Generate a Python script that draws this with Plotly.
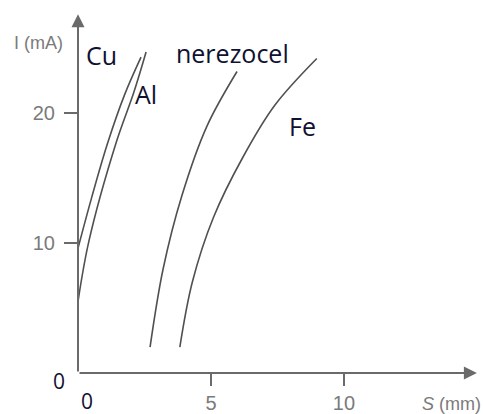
import plotly.graph_objects as go

# Current I (mA) against distance S (mm) for each material
cu_s = [0.0, 0.50, 1.10, 1.75, 2.37]
cu_i = [9.6, 13.4, 17.6, 21.4, 24.3]

al_s = [0.0, 0.41, 1.43, 2.10, 2.56]
al_i = [5.5, 10.15, 17.7, 21.6, 24.7]

inox_s = [2.71, 3.20, 3.90, 4.85, 5.98]
inox_i = [2.0, 8.0, 13.6, 19.0, 23.2]

fe_s = [3.83, 4.30, 5.10, 6.20, 7.40, 8.98]
fe_i = [2.0, 7.0, 12.0, 16.6, 20.6, 24.2]

x_ticks = [5, 10]
y_ticks = [10, 20]

# label text and anchor point (S, I)
labels = [("Cu", 0.9, 24.5), ("Al", 2.55, 21.5), ("nerezocel", 5.8, 24.6), ("Fe", 8.46, 19.0)]

X_MAX = 15.23
Y_MAX = 28.7
X_TIP = 15.0
Y_TIP = 27.6

curve_color = "#505050"
axis_color = "#6a6a6a"
label_font = dict(family="Open Sans, sans-serif", size=25, color="#101030")
tick_font = dict(family="Liberation Sans, Arial, sans-serif", size=20, color="#7a7a7a")
title_font = dict(family="Liberation Sans, Arial, sans-serif", size=18, color="#7a7a7a")

fig = go.Figure()
for s, i in [(cu_s, cu_i), (al_s, al_i), (inox_s, inox_i), (fe_s, fe_i)]:
    fig.add_trace(go.Scatter(x=s, y=i, mode="lines",
                             line=dict(color=curve_color, width=1.6, shape="spline", smoothing=1.0),
                             hoverinfo="skip", showlegend=False))

annotations = []
# axes drawn as arrows
annotations.append(dict(x=X_TIP, y=0, ax=0, ay=0, xref="x", yref="y", axref="x", ayref="y", text="",
                        showarrow=True, arrowhead=2, arrowsize=1.3, arrowwidth=2, arrowcolor=axis_color))
annotations.append(dict(x=0, y=Y_TIP, ax=0, ay=0, xref="x", yref="y", axref="x", ayref="y", text="",
                        showarrow=True, arrowhead=2, arrowsize=1.3, arrowwidth=2, arrowcolor=axis_color))

for txt, s, i in labels:
    annotations.append(dict(x=s, y=i, xref="x", yref="y", text=txt, showarrow=False, font=label_font))

# origin labels (pixel positions, converted to paper fractions below)
zero_font = dict(family="Open Sans, sans-serif", size=21, color="#101030")
annotations.append(dict(x=59, y=27, xref="paper", yref="paper", xanchor="center", yanchor="middle",
                        text="0", showarrow=False, font=zero_font))
annotations.append(dict(x=87, y=7, xref="paper", yref="paper", xanchor="center", yanchor="middle",
                        text="0", showarrow=False, font=zero_font))
# axis titles
annotations.append(dict(x=38, y=370, xref="paper", yref="paper", xanchor="center", yanchor="middle",
                        text="I (mA)", showarrow=False, font=title_font))
annotations.append(dict(x=451, y=4, xref="paper", yref="paper", xanchor="center", yanchor="middle",
                        text="<i>S</i> (mm)", showarrow=False, font=title_font))

W, H = 483, 414
L, R, T, B = 78, 0, 0, 35
pw, ph = W - L - R, H - T - B
for a in annotations:
    if a.get("xref") == "paper":
        a["x"] = (a["x"] - L) / pw
        a["y"] = (a["y"] - B) / ph

fig.update_layout(
    width=W, height=H,
    margin=dict(l=L, r=R, t=T, b=B, pad=0),
    paper_bgcolor="white", plot_bgcolor="white",
    annotations=annotations,
    xaxis=dict(range=[0, X_MAX], tickvals=x_ticks, ticktext=[str(v) for v in x_ticks], ticks="outside",
               ticklen=12, tickwidth=2, tickcolor=axis_color, tickfont=tick_font, showgrid=False,
               zeroline=False, showline=False, fixedrange=True),
    yaxis=dict(range=[0, Y_MAX], tickvals=y_ticks, ticktext=[str(v) for v in y_ticks], ticks="outside",
               ticklen=13, tickwidth=2, tickcolor=axis_color, tickfont=tick_font, showgrid=False,
               zeroline=False, showline=False, fixedrange=True, ticklabelstandoff=5),
)

fig.write_html("out.html")
